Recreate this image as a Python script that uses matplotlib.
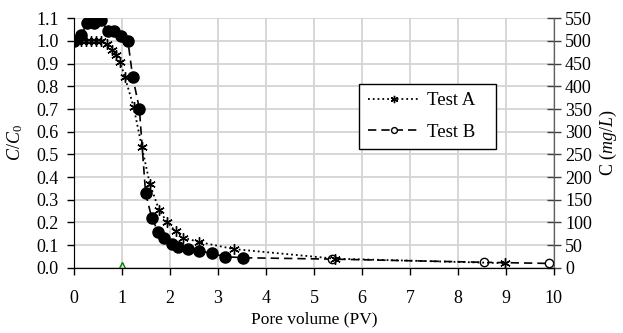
import matplotlib
matplotlib.use("Agg")
import matplotlib.pyplot as plt
import numpy as np

plt.rcParams['font.family'] = ['Liberation Serif', 'DejaVu Serif']
plt.rcParams['mathtext.fontset'] = 'custom'
plt.rcParams['mathtext.it'] = 'Liberation Serif:italic'
plt.rcParams['mathtext.rm'] = 'Liberation Serif'

# Test A (C/C0)
pv_a = [0.03, 0.15, 0.25, 0.35, 0.46, 0.56, 0.68, 0.79, 0.88, 0.96, 1.06, 1.24, 1.41,
        1.58, 1.77, 1.94, 2.12, 2.27, 2.61, 3.34, 5.44, 8.98]
c_a = [1.0, 1.0, 1.0, 1.0, 1.0, 1.0, 0.985, 0.96, 0.938, 0.907, 0.84, 0.709, 0.534,
       0.368, 0.255, 0.2, 0.16, 0.133, 0.113, 0.082, 0.04, 0.02]

# Test B (filled points early, open circles late)
pv_b = [0.0, 0.15, 0.27, 0.41, 0.55, 0.71, 0.84, 0.98, 1.12, 1.22, 1.36, 1.49, 1.62,
        1.75, 1.88, 2.03, 2.16, 2.38, 2.61, 2.87, 3.14, 3.53, 5.37, 8.55, 9.89]
c_b = [1.0, 1.026, 1.081, 1.081, 1.093, 1.044, 1.044, 1.023, 1.001, 0.843, 0.701, 0.328,
       0.219, 0.159, 0.131, 0.105, 0.093, 0.084, 0.075, 0.063, 0.049, 0.044, 0.038,
       0.024, 0.019]
n_filled = 22

# marker at 1 PV
pv_mark = [1.0]
c_mark = [0.005]

fs = 13

fig = plt.figure(figsize=(6.23, 3.33), dpi=100)
ax = fig.add_axes([0.119, 0.196, 0.770, 0.749])

ax.plot(pv_a, c_a, color='black', linestyle=':', lw=1.3, marker=(6, 2, 0),
        markersize=7.5, mew=1.0, label='Test A', zorder=4)
ax.plot(pv_b, c_b, color='black', linestyle=(0, (5, 3)), lw=1.2, marker='o',
        markersize=6, mfc='white', mec='black', mew=1.0, label='Test B', zorder=3)
ax.plot(pv_b[:n_filled], c_b[:n_filled], linestyle='none', marker='o',
        markersize=8, color='black', zorder=5)
ax.plot(pv_mark, c_mark, linestyle='none', marker='^', markersize=6.5,
        mfc='none', mec='green', mew=1.0, zorder=6)

ax.set_xlim(0, 10)
ax.set_ylim(0, 1.1)
ax.set_xticks(np.arange(0, 11, 1))
ax.set_yticks(np.arange(0, 1.11, 0.1))
ax.set_yticklabels(['%.1f' % v for v in np.arange(0, 1.11, 0.1)])
ax.grid(True, color='#d4d4d4', lw=1.3)
ax.set_axisbelow(True)
ax.spines['top'].set_visible(False)
ax.spines['left'].set_color('#606060')
ax.spines['right'].set_color('#606060')
ax.spines['bottom'].set_color('black')
ax.tick_params(axis='both', labelsize=fs, direction='out', length=5, width=1,
               colors='black')
ax.tick_params(axis='y', pad=6)
ax.tick_params(axis='x', pad=11)
ax.set_xlabel('Pore volume (PV)', fontsize=12.5, labelpad=3)
ax.set_ylabel('$C/C_0$', fontsize=13, labelpad=8)

ax2 = ax.twinx()
ax2.set_ylim(0, 550)
ax2.set_yticks(np.arange(0, 551, 50))
ax2.tick_params(axis='y', labelsize=fs, direction='inout', length=10, width=1,
                color='#404040', pad=3)
ax2.spines['top'].set_visible(False)
ax2.spines['right'].set_color('#606060')
ax2.set_ylabel('C ($mg/L$)', fontsize=13, labelpad=4)

leg = ax.legend(loc='upper left', bbox_to_anchor=(0.594, 0.477, 0.285, 0.26),
                mode='expand', borderaxespad=0,
                fontsize=13.5, frameon=True, fancybox=False, edgecolor='black',
                framealpha=1, handlelength=2.8, handletextpad=0.35,
                borderpad=0.45, labelspacing=0.75, markerscale=0.7)
leg.get_frame().set_linewidth(1.0)

fig.savefig('out.png', dpi=100)
